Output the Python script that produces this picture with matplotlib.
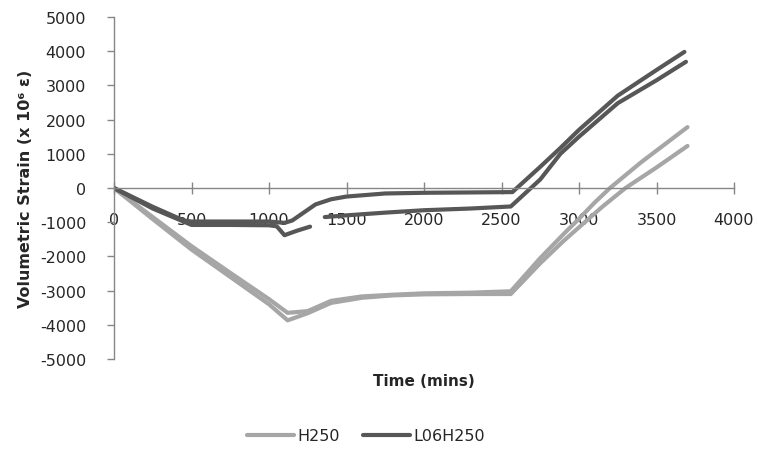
import numpy as np
import matplotlib
matplotlib.use("Agg")
import matplotlib.pyplot as plt

nan = np.nan

# H250 specimens (two gauges)
t_h250_a = [0, 250, 500, 750, 1000, 1120, 1250, 1400, 1600, 1800, 2000, 2300, 2560,
            2750, 2900, 3000, 3150, 3300, 3500, 3700]
v_h250_a = [0, -910, -1800, -2600, -3400, -3870, -3660, -3360, -3210, -3140, -3110, -3100, -3100,
            -2200, -1550, -1150, -550, 0, 600, 1230]

t_h250_b = [0, 250, 500, 750, 1000, 1120, 1250, 1400, 1600, 1800, 2000, 2300, 2560,
            2750, 2900, 3000, 3100, 3200, 3400, 3700]
v_h250_b = [0, -850, -1700, -2480, -3250, -3650, -3600, -3300, -3170, -3120, -3080, -3060, -3020,
            -2050, -1350, -900, -430, 0, 750, 1780]

# L06H250 specimens (two gauges)
t_l06_a = [0, 250, 450, 500, 750, 1000, 1100, 1150, 1300, 1400, 1500, 1750, 2000, 2300, 2570,
           2750, 2880, 3000, 3250, 3500, 3680]
v_l06_a = [0, -550, -950, -980, -980, -980, -1020, -950, -480, -330, -250, -160, -140, -130, -120,
           620, 1170, 1700, 2700, 3450, 3980]

t_l06_b = [0, 250, 500, 750, 1000, 1050, 1100, 1180, 1265, nan, 1360, 1500, 1750, 2000, 2300, 2560,
           2750, 2880, 3000, 3250, 3500, 3690]
v_l06_b = [0, -600, -1080, -1080, -1090, -1120, -1380, -1250, -1130, nan, -850, -800, -720, -650, -600, -540,
           250, 1000, 1500, 2480, 3150, 3690]

x_ticks = [0, 500, 1000, 1500, 2000, 2500, 3000, 3500, 4000]
y_ticks = [-5000, -4000, -3000, -2000, -1000, 0, 1000, 2000, 3000, 4000, 5000]

light = "#a6a6a6"
dark = "#575757"
axis_col = "#868686"
text_col = "#262626"

plt.rcParams["font.family"] = ["DejaVu Sans"]

fig = plt.figure(figsize=(7.58, 4.52), dpi=100)
ax = fig.add_axes([114 / 758, 1 - 360 / 452, 620 / 758, 342 / 452])

lw = 3.0
ax.plot(t_h250_a, v_h250_a, color=light, lw=lw, label="H250", solid_capstyle="round")
ax.plot(t_h250_b, v_h250_b, color=light, lw=lw, label="_nolegend_", solid_capstyle="round")
ax.plot(t_l06_a, v_l06_a, color=dark, lw=lw, label="L06H250", solid_capstyle="round")
ax.plot(t_l06_b, v_l06_b, color=dark, lw=lw, label="_nolegend_", solid_capstyle="round")

ax.set_xlim(0, 4000)
ax.set_ylim(-5000, 5000)
ax.set_xticks(x_ticks)
ax.set_yticks(y_ticks)
ax.set_xticklabels([str(v) for v in x_ticks])
ax.set_yticklabels([str(v) for v in y_ticks])

for s in ("top", "right"):
    ax.spines[s].set_visible(False)
ax.spines["bottom"].set_position(("data", 0))
for s in ("left", "bottom"):
    ax.spines[s].set_color(axis_col)
    ax.spines[s].set_linewidth(1.0)

ax.tick_params(axis="y", direction="out", length=5, width=1, color=axis_col,
               pad=15, labelsize=11.5, labelcolor=text_col)
ax.tick_params(axis="x", direction="inout", length=8, width=1, color=axis_col,
               pad=13, labelsize=11.5, labelcolor=text_col)

ax.set_xlabel("Time (mins)", fontsize=11, fontweight="bold", color=text_col)
ax.xaxis.set_label_coords(0.5, (360 - 382) / 342)
ax.xaxis.label.set_va("center")
ax.set_ylabel("Volumetric Strain (x 10⁶ ε)", fontsize=11.5, fontweight="bold", color=text_col)
ax.yaxis.set_label_coords((25 - 114) / 620, 0.5)
ax.yaxis.label.set_va("center")

fig.legend(loc="center", bbox_to_anchor=(366 / 758, 15 / 452), ncol=2, frameon=False,
           fontsize=11.5, handlelength=2.9, handletextpad=0.2, columnspacing=1.5,
           labelcolor=text_col)

fig.savefig("out.png", dpi=100, facecolor="white")
